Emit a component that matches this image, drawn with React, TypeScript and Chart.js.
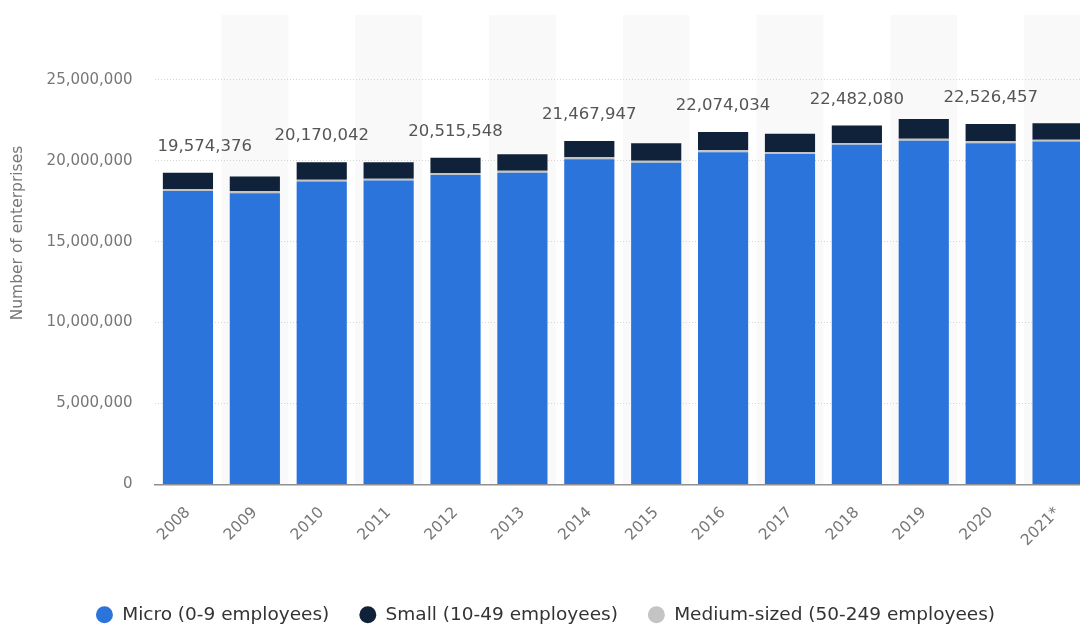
import React, { useEffect, useRef } from "react";
import { Chart, registerables } from "chart.js";

Chart.register(...registerables);

const categories = ["2008", "2009", "2010", "2011", "2012", "2013", "2014", "2015", "2016", "2017", "2018", "2019", "2020", "2021*"];
const micro = [18130000, 17990000, 18710000, 18770000, 19120000, 19260000, 20090000, 19880000, 20530000, 20420000, 20980000, 21230000, 21080000, 21180000];
const small = [1010000, 910000, 1080000, 1020000, 950000, 1020000, 1010000, 1080000, 1120000, 1120000, 1080000, 1220000, 1060000, 1020000];
const medium = [120000, 120000, 120000, 120000, 120000, 120000, 120000, 120000, 120000, 120000, 120000, 120000, 120000, 120000];
const totalLabels: (number | null)[] = [19574376, null, 20170042, null, 20515548, null, 21467947, null, 22074034, null, 22482080, null, 22526457, null];
const yTickValues = [0, 5000000, 10000000, 15000000, 20000000, 25000000];
const yTitle = "Number of enterprises";

const seriesNames = ["Micro (0-9 employees)", "Small (10-49 employees)", "Medium-sized (50-249 employees)"];
const seriesColors = ["#2a74db", "#0f2239", "#c4c4c4"];

const FONT = "'DejaVu Sans', sans-serif";

const bandsPlugin = {
  id: "bands",
  beforeDraw(chart: any) {
    const { ctx, chartArea, scales } = chart;
    const x = scales.x;
    const w = (chartArea.right - chartArea.left) / categories.length;
    ctx.save();
    ctx.fillStyle = "#f9f9f9";
    categories.forEach((_, i) => {
      if (i % 2 === 1) {
        const cx = x.getPixelForValue(i);
        ctx.fillRect(cx - w / 2, chartArea.top, w, chartArea.bottom - chartArea.top);
      }
    });
    ctx.restore();
  },
};

const totalsPlugin = {
  id: "totals",
  afterDatasetsDraw(chart: any) {
    const { ctx, chartArea, scales } = chart;
    const x = scales.x;
    const y = scales.y;
    ctx.save();
    ctx.font = `16.5px ${FONT}`;
    ctx.fillStyle = "#555555";
    ctx.textAlign = "left";
    ctx.textBaseline = "middle";
    totalLabels.forEach((t, i) => {
      if (t == null) return;
      const sum = micro[i] + small[i] + medium[i];
      const yTop = y.getPixelForValue(sum);
      const xc = x.getPixelForValue(i);
      const text = t.toLocaleString("en-US");
      const w = ctx.measureText(text).width;
      let left = xc - w / 2;
      if (left < chartArea.left + 3) left = chartArea.left + 3;
      if (left + w > chartArea.right - 3) left = chartArea.right - 3 - w;
      ctx.fillText(text, left, yTop - 26);
    });
    ctx.restore();
  },
};

const yTitlePlugin = {
  id: "ytitle",
  afterDraw(chart: any) {
    const { ctx } = chart;
    ctx.save();
    ctx.translate(18, 233);
    ctx.rotate(-Math.PI / 2);
    ctx.font = `15.5px ${FONT}`;
    ctx.fillStyle = "#777777";
    ctx.textAlign = "center";
    ctx.textBaseline = "middle";
    ctx.fillText(yTitle, 0, 0);
    ctx.restore();
  },
};

export default function App() {
  const canvasRef = useRef<HTMLCanvasElement | null>(null);

  useEffect(() => {
    if (!canvasRef.current) return;
    const chart = new Chart(canvasRef.current, {
      type: "bar",
      data: {
        labels: categories,
        datasets: [
          { label: seriesNames[0], data: micro, backgroundColor: seriesColors[0], order: 0 },
          { label: seriesNames[1], data: small, backgroundColor: seriesColors[1], order: 2 },
          { label: seriesNames[2], data: medium, backgroundColor: seriesColors[2], order: 1 },
        ],
      },
      options: {
        responsive: false,
        animation: false,
        devicePixelRatio: 1,
        layout: { padding: { top: 15, right: 9, left: 0, bottom: 0 } },
        datasets: { bar: { categoryPercentage: 1, barPercentage: 0.75, borderWidth: 0 } },
        plugins: {
          tooltip: { enabled: false },
          legend: {
            position: "bottom",
            labels: {
              usePointStyle: true,
              pointStyle: "circle",
              pointStyleWidth: 17,
              boxHeight: 12,
              padding: 30,
              color: "#333333",
              font: { family: FONT, size: 18.5 },
              sort: (a: any, b: any) => a.datasetIndex - b.datasetIndex,
            },
          },
        },
        scales: {
          x: {
            stacked: true,
            grid: { display: false, drawTicks: false },
            border: { display: true, color: "#8f8f8f", width: 1.5 },
            ticks: {
              color: "#777777",
              font: { family: FONT, size: 15.5 },
              minRotation: 45,
              maxRotation: 45,
              padding: 19,
              autoSkip: false,
            },
            afterFit: (scale: any) => {
              scale.height = 91;
            },
          },
          y: {
            stacked: true,
            min: 0,
            max: 29000000,
            afterBuildTicks: (scale: any) => {
              scale.ticks = yTickValues.map((v) => ({ value: v }));
            },
            afterFit: (scale: any) => {
              scale.width = 154.5;
            },
            grid: {
              drawTicks: true,
              tickLength: 20,
              tickColor: "rgba(0,0,0,0)",
              color: (c: any) => (c.tick && c.tick.value === 0 ? "rgba(0,0,0,0)" : "#d4d4d4"),
              lineWidth: 1,
            },
            border: { display: false, dash: [1, 2] },
            ticks: {
              color: "#777777",
              font: { family: FONT, size: 15 },
              padding: 2,
              callback: (v: any) => Number(v).toLocaleString("en-US"),
            },
            title: { display: false },
          },
        },
      },
      plugins: [bandsPlugin, totalsPlugin, yTitlePlugin],
    });
    return () => chart.destroy();
  }, []);

  return (
    <div style={{ position: "fixed", left: 0, top: 0, width: 1080, height: 624, overflow: "hidden", background: "#ffffff" }}>
      <canvas ref={canvasRef} width={1100} height={634} style={{ width: 1100, height: 634, display: "block" }} />
    </div>
  );
}
